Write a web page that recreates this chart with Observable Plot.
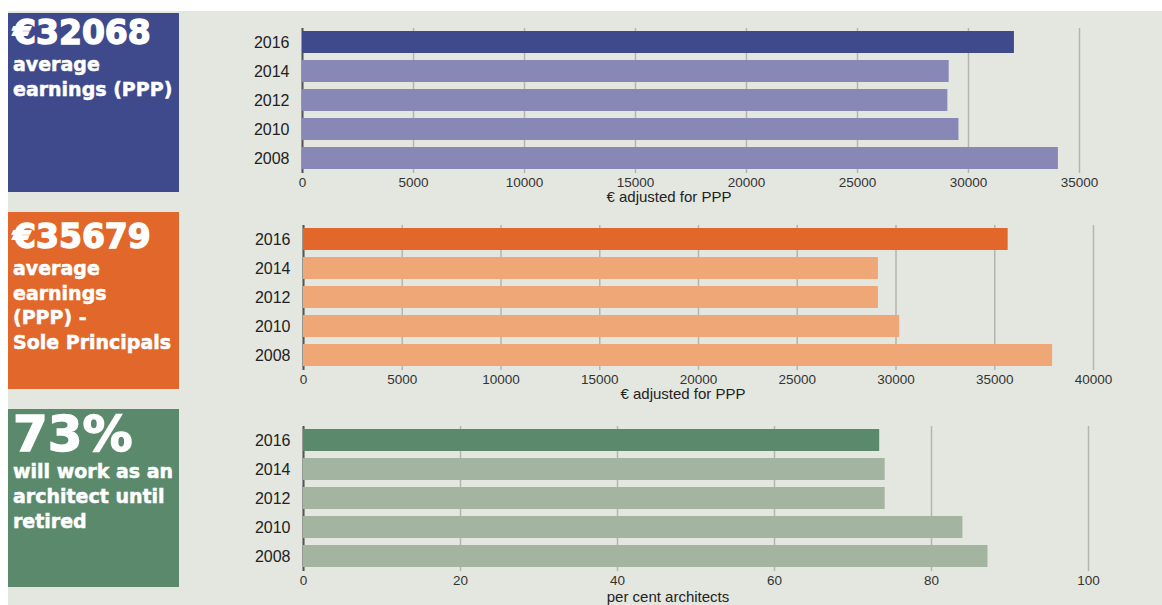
<!DOCTYPE html>
<html>
<head>
<meta charset="utf-8">
<script src="https://cdn.jsdelivr.net/npm/d3@7"></script>
<script src="https://cdn.jsdelivr.net/npm/@observablehq/plot@0.6"></script>
<style>
  html, body { margin: 0; padding: 0; background: #ffffff; }
  #page { position: relative; width: 1162px; height: 605px; overflow: hidden; background: #ffffff; }
  #panel { position: absolute; left: 8px; top: 11px; right: 0; bottom: 0; background: #e4e7df; }
  .box { position: absolute; left: 8px; width: 171px; color: #ffffff; font-family: "DejaVu Sans", sans-serif; font-weight: bold; box-sizing: border-box; padding-left: 5px; }
  .big { font-size: 33px; line-height: 33px; white-space: nowrap; -webkit-text-stroke: 1.4px #ffffff; }
  .small { font-size: 19px; line-height: 25px; white-space: nowrap; -webkit-text-stroke: 0.5px #ffffff; }
  .chart { position: absolute; left: 0; }
  .xlabel { position: absolute; font-family: "Liberation Sans", Arial, sans-serif; font-size: 15px; line-height: 15px; color: #222; transform: translateX(-50%); white-space: nowrap; }
</style>
</head>
<body>
<div id="page">
  <div id="panel"></div>
</div>
<script>
// ---- data ----
const years = ["2016", "2014", "2012", "2010", "2008"];
const avgEarnings = [32068, 29130, 29070, 29570, 34050];
const solePrincipalEarnings = [35679, 29110, 29110, 30190, 37930];
const untilRetiredPct = [73.4, 74.1, 74.1, 84.0, 87.2];

const earningsTicks = [0, 5000, 10000, 15000, 20000, 25000, 30000, 35000];
const principalTicks = [0, 5000, 10000, 15000, 20000, 25000, 30000, 35000, 40000];
const percentTicks = [0, 20, 40, 60, 80, 100];

const headlines = ["€32068", "€35679", "73%"];
const captions = [
  ["average", "earnings (PPP)"],
  ["average", "earnings", "(PPP) -", "Sole Principals"],
  ["will work as an", "architect until", "retired"]
];
const axisLabels = ["€ adjusted for PPP", "€ adjusted for PPP", "per cent architects"];

// ---- styling ----
const palettes = [
  {dark: "#3e4a8b", light: "#8888b7"},
  {dark: "#e2672a", light: "#f0a777"},
  {dark: "#5b896c", light: "#a3b4a1"}
];

const page = document.getElementById("page");

function makeChart(values, ticks, domainMax, pal, top, marginLeft, marginRight) {
  const data = years.map((y, i) => ({year: y, value: values[i]}));
  const chart = Plot.plot({
    width: 1162,
    height: 205,
    marginTop: 28,
    marginBottom: 32,
    marginLeft,
    marginRight,
    style: {background: "none", fontFamily: "'Liberation Sans', Arial, sans-serif", color: "#222", overflow: "visible"},
    x: {domain: [0, domainMax]},
    y: {domain: years, paddingInner: 0.23, paddingOuter: 0.1},
    marks: [
      Plot.gridX(ticks, {stroke: "#b3b5ae", strokeOpacity: 1, strokeWidth: 1.5}),
      Plot.ruleX([0], {stroke: "#555", strokeWidth: 2}),
      Plot.barX(data, {x: "value", y: "year", fill: d => d.year === years[0] ? pal.dark : pal.light}),
      Plot.axisX(ticks, {tickSize: 0, tickPadding: 4, fontSize: 13.5, fill: "#333", label: null, tickFormat: d => String(d)}),
      Plot.axisY({tickSize: 0, tickPadding: 13, fontSize: 16, fill: "#222", label: null})
    ]
  });
  chart.classList.add("chart");
  chart.style.top = top + "px";
  chart.style.position = "absolute";
  chart.style.left = "0px";
  page.appendChild(chart);
}

makeChart(avgEarnings, earningsTicks, 35000, palettes[0], 0, 302, 83);
makeChart(solePrincipalEarnings, principalTicks, 40000, palettes[1], 197, 303, 69);
makeChart(untilRetiredPct, percentTicks, 100, palettes[2], 398, 303, 74);

// ---- left boxes ----
const boxSpecs = [
  {top: 13, height: 179, bigSize: 33, bigPad: 3, gap: 3, lh: 25},
  {top: 212, height: 177, bigSize: 33, bigPad: 8, gap: 3, lh: 24.5},
  {top: 409, height: 178, bigSize: 50, bigPad: 0, gap: 0, lh: 25}
];
boxSpecs.forEach((s, i) => {
  const box = document.createElement("div");
  box.className = "box";
  box.style.top = s.top + "px";
  box.style.height = s.height + "px";
  box.style.background = palettes[i].dark;
  box.style.paddingTop = s.bigPad + "px";
  const big = document.createElement("div");
  big.className = "big";
  big.style.fontSize = s.bigSize + "px";
  big.style.lineHeight = s.bigSize + "px";
  big.textContent = headlines[i];
  box.appendChild(big);
  const cap = document.createElement("div");
  cap.className = "small";
  cap.style.marginTop = s.gap + "px";
  cap.style.lineHeight = s.lh + "px";
  cap.innerHTML = captions[i].map(t => `<div>${t}</div>`).join("");
  box.appendChild(cap);
  page.appendChild(box);
});

// ---- axis titles ----
const labelPos = [{cx: 669, top: 189}, {cx: 683, top: 386}, {cx: 668, top: 589}];
labelPos.forEach((p, i) => {
  const d = document.createElement("div");
  d.className = "xlabel";
  d.style.left = p.cx + "px";
  d.style.top = p.top + "px";
  d.textContent = axisLabels[i];
  page.appendChild(d);
});
</script>
</body>
</html>
